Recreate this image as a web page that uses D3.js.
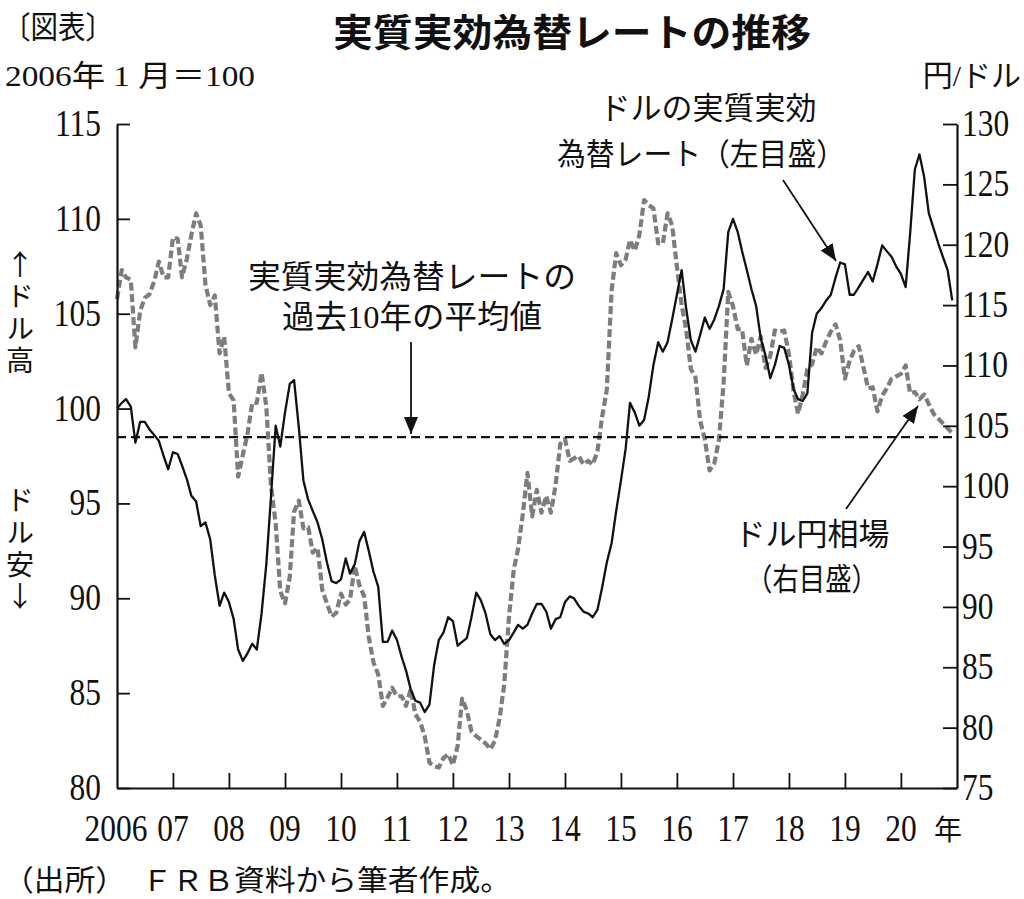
<!DOCTYPE html>
<html><head><meta charset="utf-8">
<script src="https://cdn.jsdelivr.net/npm/d3@7"></script>
<style>
html,body{margin:0;padding:0;background:#fff;}
svg{display:block;}
</style></head><body>
<svg id="chart" width="1024" height="899"></svg>
<script>
// ---------- data ----------
const yearTicks = [2007,2008,2009,2010,2011,2012,2013,2014,2015,2016,2017,2018,2019,2020];
const yearLabels = ["2006","07","08","09","10","11","12","13","14","15","16","17","18","19","20"];
const leftTicks = [80,85,90,95,100,105,110,115];
const rightTicks = [75,80,85,90,95,100,105,110,115,120,125,130];

// Dollar real effective exchange rate (2006/1 = 100), monthly 2006/1 - 2020/12 (left axis)
const reer = [
  100.0,100.3,100.5,100.1,98.2,99.3,99.3,98.9,98.6,98.3,97.5,96.8,
  97.7,97.6,97.0,96.3,95.4,95.1,93.8,94.0,93.1,91.2,89.6,90.3,
  89.8,88.9,87.3,86.7,87.1,87.6,87.3,89.2,91.8,95.3,99.1,98.0,
  99.8,101.3,101.5,99.0,96.2,95.2,94.6,94.0,93.1,91.9,90.9,90.8,
  91.0,92.1,91.3,91.8,93.0,93.5,92.5,91.4,90.6,87.7,87.7,88.3,
  87.8,86.9,86.2,85.2,84.6,84.5,84.0,84.4,86.5,87.8,88.2,89.0,
  88.8,87.5,87.7,87.9,89.0,90.3,89.9,89.2,88.1,87.8,88.0,87.6,
  87.8,88.2,88.6,88.4,88.6,89.2,89.7,89.7,89.3,88.4,88.9,89.0,
  89.8,90.1,90.0,89.6,89.3,89.2,89.0,89.4,90.6,91.9,92.9,94.6,
  96.2,97.9,100.3,99.8,99.1,99.4,100.6,102.3,103.5,103.0,103.5,104.7,
  106.0,107.3,105.3,103.6,103.0,103.9,104.8,104.2,104.7,105.4,106.3,109.3,
  110.0,109.3,108.3,107.3,106.3,105.4,103.7,102.8,101.6,102.3,103.3,103.2,
  102.3,101.0,100.5,100.4,100.8,104.0,105.0,105.3,105.7,106.0,106.9,107.7,
  107.6,106.0,106.0,106.4,106.8,107.2,106.7,107.6,108.6,108.3,108.0,107.5,
  107.1,106.4,109.2,112.6,113.4,112.2,110.3,109.5,108.7,108.0,107.3,105.7
];

// Yen per dollar, monthly 2006/1 - 2020/12 (right axis)
const usdjpy = [
  115.5,117.9,117.3,117.1,111.5,114.5,115.6,115.9,117.0,118.6,117.3,117.3,
  120.6,120.5,117.3,118.8,120.8,122.6,121.6,116.7,115.0,115.8,111.0,112.4,
  107.7,107.1,100.8,102.6,104.3,106.9,106.9,109.4,106.6,100.1,96.9,91.3,
  90.3,92.5,97.9,98.8,96.5,96.6,94.5,94.9,91.4,90.3,89.2,89.5,
  91.1,90.2,90.6,93.4,91.8,90.9,87.5,85.4,84.4,81.8,82.5,83.3,
  82.6,82.6,81.8,83.2,81.1,80.5,79.3,77.1,76.8,76.7,77.5,77.8,
  76.9,78.5,82.4,81.4,79.7,79.3,79.0,78.7,78.2,78.9,80.8,83.6,
  89.2,93.1,94.8,97.7,101.1,97.5,99.7,97.8,99.2,97.8,100.1,103.5,
  103.9,102.1,102.3,102.5,101.8,102.1,101.8,102.9,105.8,108.0,116.2,119.3,
  118.3,118.8,120.4,119.5,120.8,123.7,123.3,123.0,120.1,120.1,122.6,121.6,
  118.2,115.0,113.0,109.7,109.0,105.4,103.9,101.3,101.9,103.8,108.6,116.1,
  114.9,113.0,113.0,110.0,112.2,110.9,112.4,109.8,110.8,112.9,112.8,112.9,
  110.9,107.8,106.0,107.6,109.7,110.1,111.5,111.0,112.0,112.8,113.4,112.1,
  108.9,110.4,111.2,111.6,109.9,108.1,108.2,106.2,107.5,108.1,108.9,109.1,
  109.3,110.0,107.7,107.8,107.2,107.6,106.8,106.0,105.6,105.2,104.8,104.4
];

// 10-year average of the real effective exchange rate (left axis)
const avgValue = 98.5;

// ---------- layout ----------
const svg = d3.select("#chart");
const L = 117, R = 957, T = 124, B = 788;
const months = d3.timeMonth.range(new Date(2006,0,1), new Date(2021,0,1));

const x = d3.scaleTime().domain([new Date(2006,0,1), new Date(2021,0,1)]).range([L, R]);
const yL = d3.scaleLinear().domain([80,115]).range([B, T]);
const yR = d3.scaleLinear().domain([75,130]).range([B, T]);

const serif = "'Liberation Serif','DejaVu Serif',serif";
const cjk = "'Noto Sans CJK JP','Noto Sans CJK SC',sans-serif";
const mixed = "'Liberation Serif','Noto Sans CJK JP',serif";

// ---------- series ----------
const reerData = months.map((d,i)=>({date:d, v:reer[i]}));
const jpyData = months.map((d,i)=>({date:d, v:usdjpy[i]}));

svg.append("path")
  .datum(jpyData)
  .attr("fill","none")
  .attr("stroke","#7d7d7d")
  .attr("stroke-width",4.2)
  .attr("stroke-dasharray","8,3.5")
  .attr("stroke-linejoin","round")
  .attr("d", d3.line().x(d=>x(d.date)).y(d=>yR(d.v)));

svg.append("path")
  .datum(reerData)
  .attr("fill","none")
  .attr("stroke","#111")
  .attr("stroke-width",2.3)
  .attr("stroke-linejoin","round")
  .attr("d", d3.line().x(d=>x(d.date)).y(d=>yL(d.v)));

// average line
svg.append("line")
  .attr("x1", L).attr("x2", R)
  .attr("y1", yL(avgValue)).attr("y2", yL(avgValue))
  .attr("stroke","#111").attr("stroke-width",2.2)
  .attr("stroke-dasharray","9,5");

// ---------- axes ----------
function styleAxis(g){
  g.select(".domain").attr("stroke","#111").attr("stroke-width",2.2);
  g.selectAll(".tick line").attr("stroke","#111").attr("stroke-width",1.8);
  g.selectAll(".tick text").remove();
}
svg.append("g").attr("transform",`translate(${L},0)`)
  .call(d3.axisRight(yL).tickValues(leftTicks).tickSize(13).tickSizeOuter(0).tickFormat(""))
  .call(styleAxis);
svg.append("g").attr("transform",`translate(${R},0)`)
  .call(d3.axisLeft(yR).tickValues(rightTicks).tickSize(14).tickSizeOuter(0).tickFormat(""))
  .call(styleAxis);
svg.append("g").attr("transform",`translate(0,${B})`)
  .call(d3.axisTop(x).tickValues(yearTicks.map(yv=>new Date(yv,0,1))).tickSize(15).tickSizeOuter(0).tickFormat(""))
  .call(styleAxis);

const numSize = 37, sx = 0.85;
function numText(str, px, py, anchor){
  svg.append("text")
    .attr("transform",`translate(${px},${py}) scale(${sx},1)`)
    .attr("text-anchor",anchor)
    .attr("font-family",serif)
    .attr("font-size",numSize)
    .attr("fill","#111")
    .text(str);
}
leftTicks.forEach(t=>numText(String(t), 101, yL(t)+12, "end"));
rightTicks.forEach(t=>numText(String(t), 962, yR(t)+12, "start"));
[2006].concat(yearTicks).forEach((yv,i)=>numText(yearLabels[i], x(new Date(yv,0,1)) - (i===0?1:0), 841, "middle"));

// ---------- texts ----------
function txt(str, px, py, opts={}){
  const t = svg.append("text")
    .attr("x",px).attr("y",py)
    .attr("text-anchor",opts.anchor||"start")
    .attr("font-family",opts.font||mixed)
    .attr("font-size",opts.size||30)
    .attr("font-weight",opts.weight||"normal")
    .attr("fill","#111")
    .text(str);
  if(opts.len){ t.attr("textLength",opts.len).attr("lengthAdjust","spacingAndGlyphs"); }
  return t;
}
txt("〔図表〕", 3, 38, {font:cjk, size:31, len:110});
txt("実質実効為替レートの推移", 572, 46, {font:cjk, size:38, weight:"bold", anchor:"middle", len:478});
txt("2006年 1 月＝100", 5, 86, {size:30, len:250});
txt("円/ドル", 1021, 86, {size:30, anchor:"end"});
txt("年", 948, 840, {font:cjk, size:28, anchor:"middle"});
txt("（出所）　ＦＲＢ資料から筆者作成。", 3, 891, {font:cjk, size:29, len:508});

txt("ドルの実質実効", 708, 119, {font:cjk, size:31, anchor:"middle"});
txt("為替レート（左目盛）", 701, 165, {font:cjk, size:31, anchor:"middle", len:288});
txt("実質実効為替レートの", 412, 288, {font:cjk, size:32, anchor:"middle", len:328});
txt("過去10年の平均値", 412, 328, {size:32, anchor:"middle", len:260});
txt("ドル円相場", 812, 545, {font:cjk, size:31, anchor:"middle"});
txt("（右目盛）", 812, 590, {font:cjk, size:31, anchor:"middle", len:132});

// vertical side labels (single vertical text each)
function vtxt(str, px, py){
  svg.append("text")
    .attr("x",px).attr("y",py)
    .attr("font-family",cjk)
    .attr("font-size",28)
    .attr("fill","#111")
    .style("writing-mode","vertical-rl")
    .style("text-orientation","upright")
    .style("letter-spacing","4px")
    .text(str);
}
vtxt("↑ドル高", 20, 250);
vtxt("ドル安↓", 20, 486);

// ---------- arrows ----------
svg.append("defs").append("marker")
  .attr("id","ah").attr("markerUnits","userSpaceOnUse")
  .attr("markerWidth",18).attr("markerHeight",14)
  .attr("refX",17).attr("refY",7).attr("orient","auto")
  .append("path").attr("d","M0,0 L17,7 L0,14 Z").attr("fill","#111");

function arrow(x1,y1,x2,y2){
  svg.append("line").attr("x1",x1).attr("y1",y1).attr("x2",x2).attr("y2",y2)
    .attr("stroke","#111").attr("stroke-width",1.8).attr("marker-end","url(#ah)");
}
arrow(411, 342, 411, yL(avgValue)-3);
arrow(783, 180, 836, 261);
arrow(846, 509, 918, 406);
</script>
</body></html>
